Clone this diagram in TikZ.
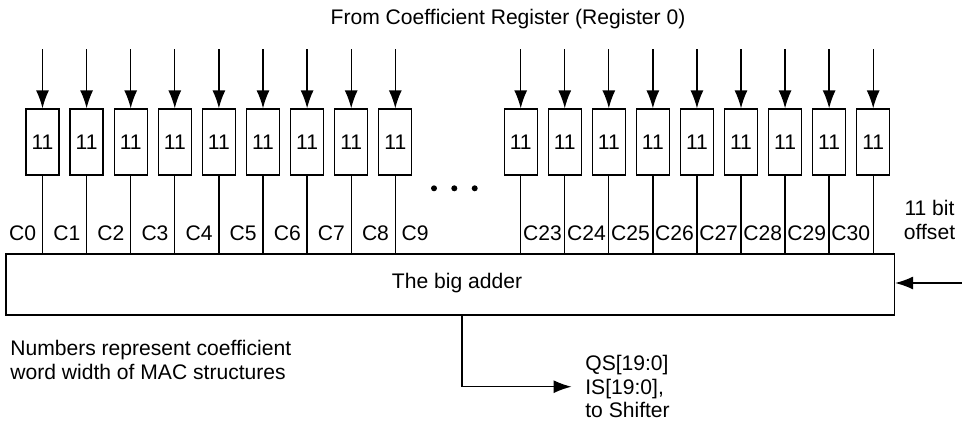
\documentclass[tikz,border=0pt]{standalone}
\usepackage{fontspec}
\setmainfont{Liberation Sans}
\usetikzlibrary{arrows.meta}
\tikzset{
  macbox/.style = {draw, line width=0.75pt, minimum width=0.66cm, minimum height=1.32cm, inner sep=0pt},
  adderbox/.style = {draw, line width=0.75pt, minimum width=17.77cm, minimum height=1.22cm, inner sep=0pt},
  wire/.style = {line width=0.75pt},
  feed/.style = {line width=0.75pt, -{Latex[length=3.6mm, width=2.6mm]}},
  clabel/.style = {inner sep=0pt},
  note/.style = {align=left, anchor=west, inner sep=0pt}
}

\begin{document}
\begin{tikzpicture}[x=0.02cm, y=-0.02cm, font=\fontsize{12}{13.3}\selectfont]
      \useasboundingbox (0,0) rectangle (962,420);
      \node (title) at (508,19) {From Coefficient Register (Register 0)};
      \node [adderbox] (adder) at (450.3,284.5) {};
      \node (addertext) at (457,283.5) {The big adder};
      \foreach \i in {0,...,8}{
        \pgfmathsetmacro\xl{42.5+44.1*\i}
        \node [macbox] (l\i) at (\xl,142) {11};
        \coordinate (lt\i) at (\xl,49);
        \draw [feed] (lt\i) -- (l\i.north);
        \draw [wire] (l\i.south) -- (l\i.south |- adder.north);
        \node [clabel, anchor=east] (c\i) at (\xl-6,233) {C\i};
      }
      \node [clabel, anchor=west] (c9) at (401.3,233) {C9};
      \foreach \i in {0,...,8}{
        \pgfmathsetmacro\xr{520.7+44.06*\i}
        \node [macbox] (r\i) at (\xr,142) {11};
        \coordinate (rt\i) at (\xr,49);
        \draw [feed] (rt\i) -- (r\i.north);
        \draw [wire] (r\i.south) -- (r\i.south |- adder.north);
      }
      \foreach \i in {0,...,7}{
        \pgfmathsetmacro\xr{520.7+44.06*\i+2}
        \pgfmathtruncatemacro\n{23+\i}
        \node [clabel, anchor=west] (c\n) at (\xr,233) {C\n};
      }
      \foreach \x in {434,454.3,474.7}
        \fill (\x,188.3) circle [radius=0.06cm];
      \node [align=center, inner sep=0pt] (offset) at (929.5,220) {11 bit\\offset};
      \coordinate (offin) at (962,283);
      \draw [feed] (offin) -- (offin -| adder.east);
      \node [note] (outtext) at (585,386.7) {QS[19:0]\\IS[19:0],\\to Shifter};
      \coordinate (outtap) at (462,0);
      \draw [feed] (adder.south -| outtap) |- ([xshift=-0.27cm]outtext.west);
      \node [note] (legend) at (10,360) {Numbers represent coefficient\\word width of MAC structures};
    \end{tikzpicture}
\end{document}
